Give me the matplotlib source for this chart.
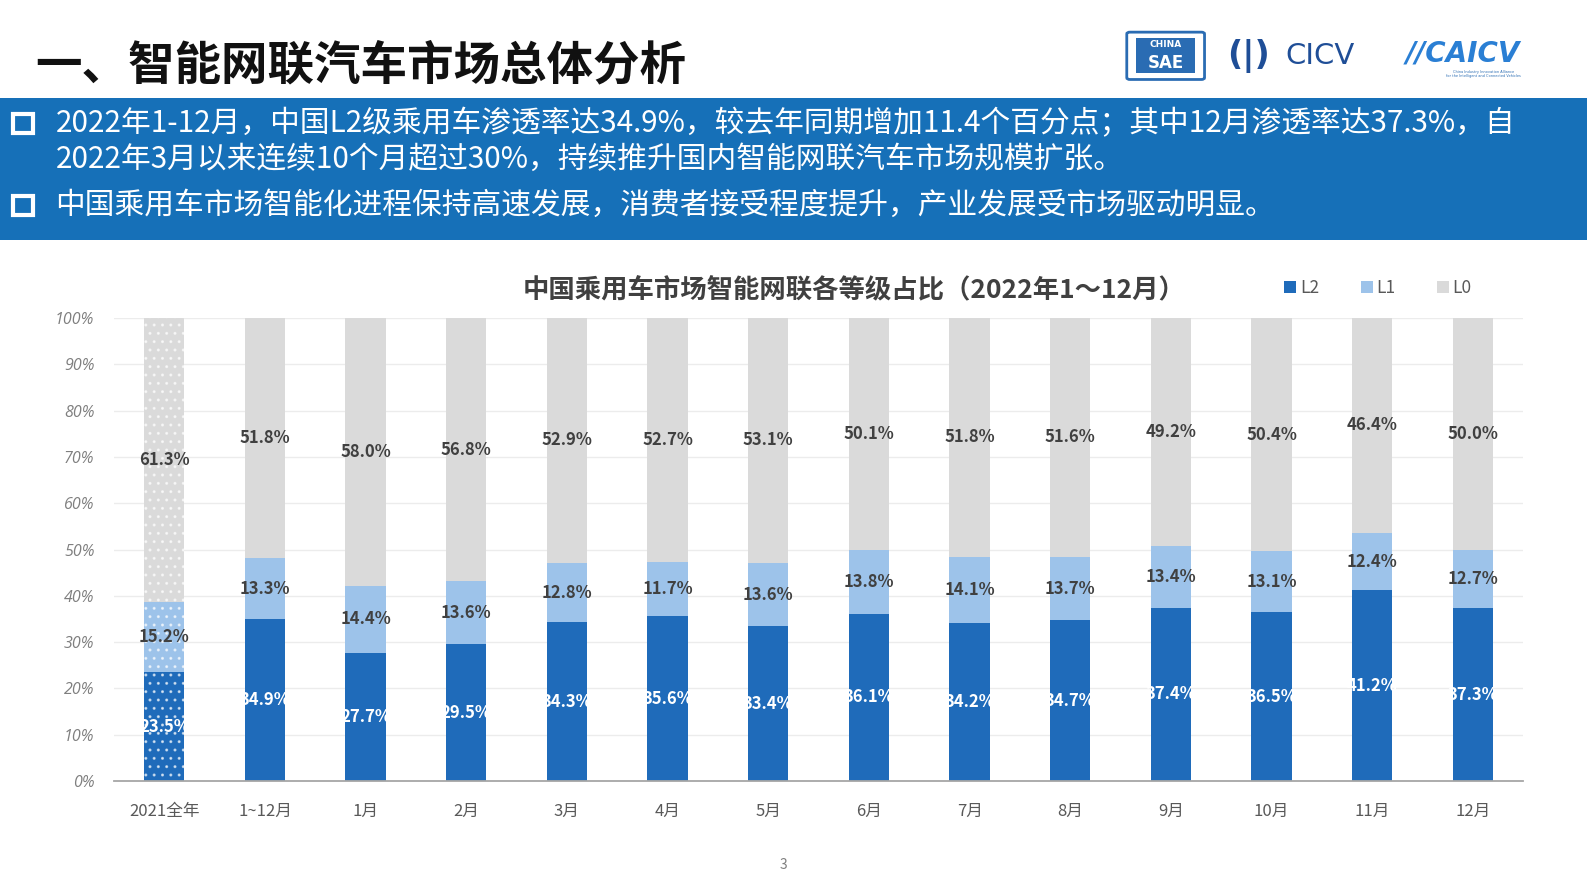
import numpy as np
import matplotlib.pyplot as plt
from matplotlib.patches import Rectangle, FancyBboxPatch

plt.rcParams['font.family'] = ['Noto Sans CJK SC', 'DejaVu Sans']

categories = ['2021全年', '1~12月', '1月', '2月', '3月', '4月', '5月', '6月',
              '7月', '8月', '9月', '10月', '11月', '12月']
l2 = [23.5, 34.9, 27.7, 29.5, 34.3, 35.6, 33.4, 36.1, 34.2, 34.7, 37.4, 36.5, 41.2, 37.3]
l1 = [15.2, 13.3, 14.4, 13.6, 12.8, 11.7, 13.6, 13.8, 14.1, 13.7, 13.4, 13.1, 12.4, 12.7]
l0 = [61.3, 51.8, 58.0, 56.8, 52.9, 52.7, 53.1, 50.1, 51.8, 51.6, 49.2, 50.4, 46.4, 50.0]
yticks = [0, 10, 20, 30, 40, 50, 60, 70, 80, 90, 100]

c_l2, c_l1, c_l0 = '#1f6bba', '#9dc3ea', '#dadada'
banner = '#1670b8'

fig = plt.figure(figsize=(15.87, 8.93), dpi=100)

# 标题
fig.text(0.022, 0.927, '一、智能网联汽车市场总体分析', fontsize=33.5, fontweight='bold',
         color='#111111', va='center', ha='left')

# logo（简化）
fig.patches.append(FancyBboxPatch((0.712, 0.913), 0.045, 0.049, boxstyle='round,pad=0.002',
                                  transform=fig.transFigure, fc='white', ec='#2a6cb3', lw=2))
fig.patches.append(Rectangle((0.716, 0.918), 0.037, 0.039, transform=fig.transFigure,
                             fc='#2a6cb3', ec='none'))
fig.text(0.7345, 0.950, 'CHINA', fontsize=6.5, fontweight='bold', color='white',
         ha='center', va='center', family='DejaVu Sans')
fig.text(0.7345, 0.929, 'SAE', fontsize=12, fontweight='bold', color='white',
         ha='center', va='center', family='DejaVu Sans')
fig.text(0.787, 0.937, '(|)', fontsize=24, fontweight='bold', color='#1f4e97',
         ha='center', va='center', family='DejaVu Sans')
fig.text(0.832, 0.937, 'CICV', fontsize=21, color='#1f4e97',
         ha='center', va='center', family='DejaVu Sans')
fig.text(0.922, 0.940, '//CAICV', fontsize=20, fontweight='bold', fontstyle='italic',
         color='#2a7fd4', ha='center', va='center', family='DejaVu Sans')
fig.text(0.935, 0.917, 'China Industry Innovation Alliance\nfor the Intelligent and Connected Vehicles',
         fontsize=2.5, color='#2a6cb3', ha='center', va='center', family='DejaVu Sans')

# 蓝色说明栏
fig.patches.append(Rectangle((0, 0.7312), 1, 0.1591, transform=fig.transFigure,
                             fc=banner, ec='none'))
bullets = [
    (0.862, '2022年1-12月，中国L2级乘用车渗透率达34.9%，较去年同期增加11.4个百分点；其中12月渗透率达37.3%，自'),
    (0.822, '2022年3月以来连续10个月超过30%，持续推升国内智能网联汽车市场规模扩张。'),
    (0.770, '中国乘用车市场智能化进程保持高速发展，消费者接受程度提升，产业发展受市场驱动明显。'),
]
for y, s in bullets:
    fig.text(0.035, y, s, fontsize=21.4, color='white', va='center', ha='left')
for y in (0.862, 0.770):
    fig.patches.append(Rectangle((0.0085, y - 0.0105), 0.012, 0.021, transform=fig.transFigure,
                                 fc='none', ec='white', lw=3))

# 图表
ax = fig.add_axes([0.0718, 0.1254, 0.888, 0.5185])
x = np.arange(len(categories))
w = 0.4
b2 = ax.bar(x, l2, w, color=c_l2, label='L2', zorder=2)
b1 = ax.bar(x, l1, w, bottom=l2, color=c_l1, label='L1', zorder=2)
b0 = ax.bar(x, l0, w, bottom=np.add(l2, l1), color=c_l0, label='L0', zorder=2)

# 2021全年 用点状填充
for bars in (b2, b1, b0):
    p = bars[0]
    p.set_hatch('..')
    p.set_edgecolor((1, 1, 1, 0.6))
    p.set_linewidth(0)

for i in range(len(categories)):
    ax.text(x[i], l2[i] / 2, f'{l2[i]:.1f}%', ha='center', va='center', color='white',
            fontsize=12, fontweight='bold', zorder=3)
    ax.text(x[i], l2[i] + l1[i] / 2, f'{l1[i]:.1f}%', ha='center', va='center', color='#404040',
            fontsize=12, fontweight='bold', zorder=3)
    ax.text(x[i], l2[i] + l1[i] + l0[i] / 2, f'{l0[i]:.1f}%', ha='center', va='center',
            color='#404040', fontsize=12, fontweight='bold', zorder=3)

ax.set_xlim(-0.5, len(categories) - 0.5)
ax.set_ylim(0, 100)
ax.set_yticks(yticks)
ax.set_yticklabels([f'{v}%' for v in yticks], fontstyle='italic', color='#7f7f7f',
                   fontsize=11.5, family='Open Sans')
ax.set_xticks(x)
ax.set_xticklabels(categories, color='#595959', fontsize=12)
ax.tick_params(axis='both', length=0)
ax.tick_params(axis='x', pad=16)
ax.tick_params(axis='y', pad=14)
ax.grid(axis='y', color='#ececec', lw=1, zorder=0)
for s in ('top', 'right', 'left'):
    ax.spines[s].set_visible(False)
ax.spines['bottom'].set_color('#a6a6a6')
ax.spines['bottom'].set_linewidth(1.3)

fig.text(0.538, 0.674, '中国乘用车市场智能网联各等级占比（2022年1～12月）', fontsize=19,
         fontweight='bold', color='#404040', ha='center', va='center')

leg = ax.legend(handles=[b2, b1, b0], ncol=3, frameon=False, loc='center',
                bbox_to_anchor=(0.897, 1.064), handlelength=0.7, handleheight=0.7,
                handletextpad=0.2, columnspacing=2.4, fontsize=12.5)
for t in leg.get_texts():
    t.set_color('#595959')
for h in leg.legend_handles:
    h.set_hatch(None)

fig.text(0.4935, 0.031, '3', fontsize=10, color='#7f7f7f', ha='center', va='center')

fig.savefig('out.png', dpi=100)
